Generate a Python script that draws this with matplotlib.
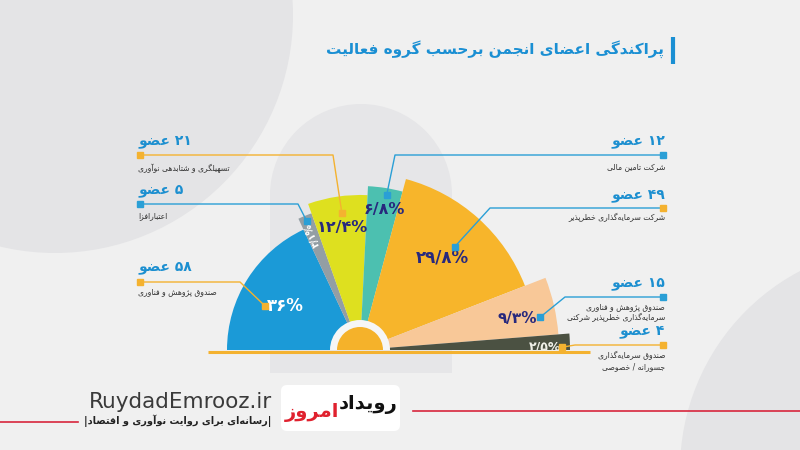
import re
import numpy as np
import matplotlib
matplotlib.use('Agg')
import matplotlib.pyplot as plt
from matplotlib.patches import Circle, Rectangle, FancyBboxPatch

plt.rcParams['font.family'] = ['DejaVu Sans']

# داده‌ها (از چپ به راست روی نیم‌دایره)
percent = [36, 3.1, 12.4, 6.8, 29.8, 9.3, 2.5]
percent_lbl = ['۳۶%', '۳/۱%', '۱۲/۴%', '۶/۸%', '۲۹/۸%', '۹/۳%', '۲/۵%']
members = ['۵۸', '۵', '۲۱', '۱۲', '۴۹', '۱۵', '۴']
groups = ['صندوق پژوهش و فناوری',
          'اعتبارافزا',
          'تسهیلگری و شتابدهی نوآوری',
          'شرکت تامین مالی',
          'شرکت سرمایه‌گذاری خطرپذیر',
          'صندوق پژوهش و فناوری\nسرمایه‌گذاری خطرپذیر شرکتی',
          'صندوق سرمایه‌گذاری\nجسورانه / خصوصی']
radius = [133, 145, 155, 164, 177, 199, 210]   # طول هر قطاع
title = 'پراکندگی اعضای انجمن برحسب گروه فعالیت'
site = 'RuydadEmrooz.ir'
slogan = '|رسانه‌ای برای روایت نوآوری و اقتصاد|'

colors = ['#1b9ad7', '#939ea4', '#dee01f', '#4cc0b0', '#f7b52b', '#f8c898', '#4b5142']
pct_col = ['white', 'white', '#28297d', '#28297d', '#28297d', '#28297d', '#f0f0e8']
BLUE = '#2a9fd6'
ORNG = '#f4b230'

# --- شکل‌دهی حروف فارسی (matplotlib خودش حروف را به هم نمی‌چسباند)
F2 = {'ا': (0xFE8D, 0xFE8E), 'آ': (0xFE81, 0xFE82), 'د': (0xFEA9, 0xFEAA),
      'ذ': (0xFEAB, 0xFEAC), 'ر': (0xFEAD, 0xFEAE), 'ز': (0xFEAF, 0xFEB0),
      'ژ': (0xFB8A, 0xFB8B), 'و': (0xFEED, 0xFEEE)}
_b = {'ب': 0xFE8F, 'پ': 0xFB56, 'ت': 0xFE95, 'ث': 0xFE99, 'ج': 0xFE9D, 'چ': 0xFB7A,
      'ح': 0xFEA1, 'خ': 0xFEA5, 'س': 0xFEB1, 'ش': 0xFEB5, 'ص': 0xFEB9, 'ض': 0xFEBD,
      'ط': 0xFEC1, 'ظ': 0xFEC5, 'ع': 0xFEC9, 'غ': 0xFECD, 'ف': 0xFED1, 'ق': 0xFED5,
      'ک': 0xFB8E, 'ك': 0xFED9, 'گ': 0xFB92, 'ل': 0xFEDD, 'م': 0xFEE1, 'ن': 0xFEE5,
      'ه': 0xFEE9, 'ی': 0xFBFC, 'ي': 0xFEF1, 'ئ': 0xFE89}
F4 = {k: (v, v + 1, v + 2, v + 3) for k, v in _b.items()}
LA = {'ا': (0xFEFB, 0xFEFC), 'آ': (0xFEF5, 0xFEF6)}


def shape(s):
    res, i = [], 0
    while i < len(s):
        c = s[i]
        jp = i > 0 and s[i - 1] in F4
        if c == 'ل' and i + 1 < len(s) and s[i + 1] in LA:
            res.append(chr(LA[s[i + 1]][1 if jp else 0]))
            i += 2
            continue
        if c in F4 or c in F2:
            forms = F4.get(c, F2.get(c))
            nxt = s[i + 1] if i + 1 < len(s) else ''
            jn = c in F4 and (nxt in F4 or nxt in F2)
            k = (3 if jn else 1) if jp else (2 if jn else 0)
            res.append(chr(forms[k]))
        elif c != '\u200c':
            res.append(c)
        i += 1
    return ''.join(res)


def fa(s):
    out = []
    for line in s.split('\n'):
        t = shape(line)
        runs = re.findall(r'[0-9۰-۹%/.]+|[^0-9۰-۹%/.]+', t)
        out.append(''.join(r if re.match(r'[0-9۰-۹]', r) else r[::-1] for r in runs[::-1]))
    return '\n'.join(out)


W, H = 800, 450
fig = plt.figure(figsize=(8, 4.5), dpi=100)
fig.patch.set_facecolor('#f0f0f0')

bg = fig.add_axes([0, 0, 1, 1])
bg.set_xlim(0, W)
bg.set_ylim(H, 0)
bg.axis('off')
bg.add_patch(Circle((55, 15), 238, color='#e4e4e6', lw=0))
bg.add_patch(Circle((905, 470), 225, color='#e4e4e6', lw=0))
bg.add_patch(Rectangle((270, 195), 182, 178, color='#e6e6e8', lw=0))
bg.add_patch(Circle((361, 195), 91, color='#e6e6e8', lw=0))

# نیم‌دایره قطاعی
CX, CY, R = 360, 350, 220
pax = fig.add_axes([(CX - R) / W, (H - CY - R) / H, 2 * R / W, 2 * R / H], projection='polar')
pax.set_ylim(0, R)
pax.axis('off')
pax.patch.set_alpha(0)

pct = np.array(percent)
wid = pct / pct.sum() * np.pi
start = np.pi - np.concatenate([[0], np.cumsum(wid)[:-1]])
mid = start - wid / 2
pax.bar(mid, radius, width=wid, bottom=0, color=colors, linewidth=0)
pax.bar(np.pi / 2, 30, width=np.pi, color='#f6f6f6', linewidth=0)
pax.bar(np.pi / 2, 23, width=np.pi, color='#f5b22a', linewidth=0)

lab_r = [87, 124, 124, 143, 124, 160, 185]
lab_dang = [2, 0, 0, -1, 0, -1.5, -1.4]
lab_fs = [12, 7, 11.5, 11.5, 12, 11, 9]
lab_rot = [0, np.degrees(mid[1]), 0, 0, 0, 0, 0]
for i in range(len(pct)):
    th = mid[i] + np.radians(lab_dang[i])
    pax.text(th, lab_r[i], percent_lbl[i], color=pct_col[i], fontsize=lab_fs[i],
             fontweight='bold', ha='center', va='center', rotation=lab_rot[i],
             rotation_mode='anchor')

top = fig.add_axes([0, 0, 1, 1])
top.set_xlim(0, W)
top.set_ylim(H, 0)
top.axis('off')
top.patch.set_alpha(0)

# خط پایه
top.plot([208, 590], [352, 352], color=ORNG, lw=2.2, solid_capstyle='butt')

# خطوط راهنما و برچسب‌ها
side = ['L', 'L', 'L', 'R', 'R', 'R', 'R']
title_y = [267, 190, 141, 141, 195, 283, 331]
line_y = [282, 204, 155, 155, 208, 297, 345]
elbow_x = [240, 298, 333, 395, 490, 565, 575]
desc_y = [292, 216, 168, 167, 218, 312, 361]
lead_col = [ORNG, BLUE, ORNG, BLUE, BLUE, BLUE, ORNG]
end_col = [ORNG, BLUE, ORNG, BLUE, ORNG, BLUE, ORNG]
mark_off = [(-20, 0), (-6, -14), (0, -14), (2, -14), (12, -11), (23, -1), (17, 0)]

inv = top.transData.inverted()
for i in range(len(pct)):
    th = mid[i] + np.radians(lab_dang[i])
    px, py = inv.transform(pax.transData.transform((th, lab_r[i])))
    mx, my = px + mark_off[i][0], py + mark_off[i][1]
    x0 = 140 if side[i] == 'L' else 663
    top.plot([x0, elbow_x[i], mx], [line_y[i], line_y[i], my], color=lead_col[i], lw=1)
    top.plot(mx, my, 's', ms=4, color=lead_col[i])
    top.plot(x0, line_y[i], 's', ms=4, color=end_col[i])
    tx, ha = (138, 'left') if side[i] == 'L' else (665, 'right')
    top.text(tx, title_y[i], fa(members[i] + ' عضو'), color='#1c8fd0', fontsize=10,
             fontweight='bold', ha=ha, va='center')
    top.text(tx, desc_y[i], fa(groups[i]), color='#333333', fontsize=5.5, ha=ha,
             va='center', multialignment=ha if ha == 'right' else 'left', linespacing=1.3)

# عنوان
top.text(664, 49, fa(title), color='#1a8fd3', fontsize=11, fontweight='bold',
         ha='right', va='center')
top.plot([673, 673], [37, 64], color='#1a8fd3', lw=3, solid_capstyle='butt')

# پانویس
top.plot([0, 78], [422, 422], color='#d7263d', lw=1.2)
top.plot([413, 800], [411, 411], color='#d7263d', lw=1.2)
top.text(272, 402, site, color='#3a3a3a', fontsize=15.5, ha='right', va='center')
top.text(271, 421, fa(slogan), color='#222222', fontsize=7, fontweight='bold',
         ha='right', va='center')
top.add_patch(FancyBboxPatch((281, 385), 119, 46, boxstyle='round,pad=0,rounding_size=6',
                             fc='white', ec='none'))
top.text(398, 404, fa('رویداد'), color='#111111', fontsize=14, fontweight='bold',
         ha='right', va='center')
top.text(285, 412, fa('امروز'), color='#e0212e', fontsize=14, fontweight='bold',
         ha='left', va='center')

fig.savefig('out.png', dpi=100, facecolor=fig.get_facecolor())
